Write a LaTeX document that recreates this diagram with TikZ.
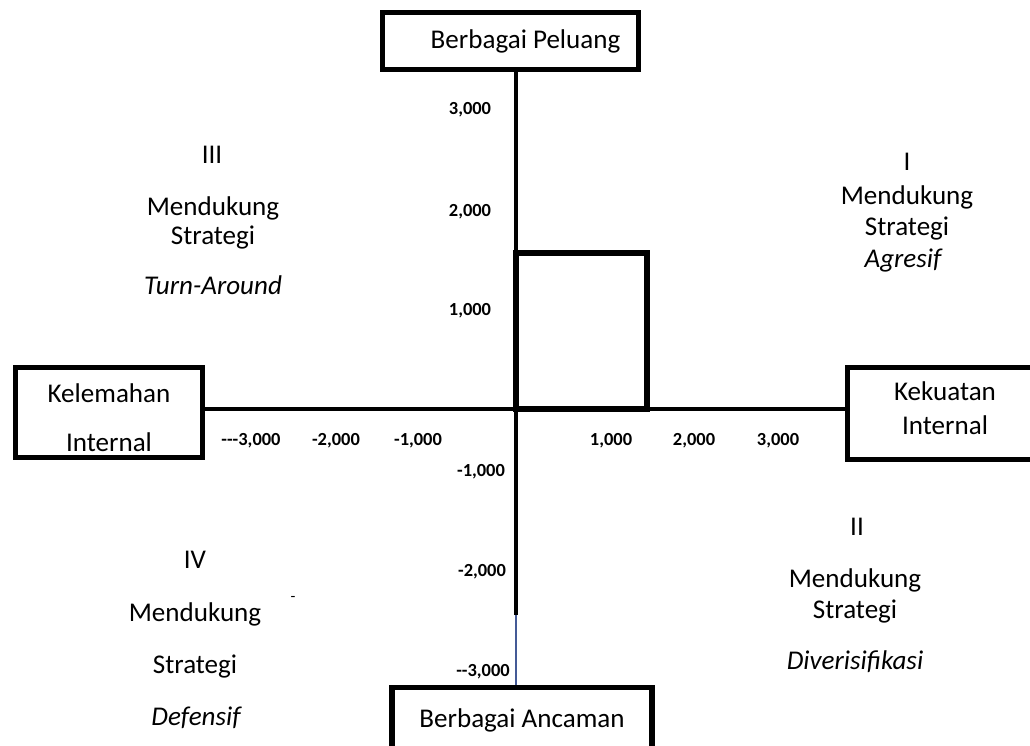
\documentclass[tikz,border=0pt]{standalone}
\usepackage{fontspec}
\setmainfont{Carlito}
\usetikzlibrary{positioning}
\definecolor{axisblue}{RGB}{68,90,150}
\tikzset{
  box/.style={draw, line width=2.9pt, inner sep=0pt, align=center,
    font=\fontsize{15.4}{18}\selectfont},
  axis/.style={line width=2.3pt},
  tick/.style={font=\fontsize{10.5}{12}\selectfont\bfseries, inner sep=0pt},
  quad/.style={font=\fontsize{15.4}{18}\selectfont, inner sep=0pt},
}

\begin{document}
\begin{tikzpicture}[x=0.02cm,y=-0.02cm]
  \useasboundingbox (0,0) rectangle (1030,745);
  \clip (0,0) rectangle (1030,745);
  \coordinate (O) at (516,409);
  \coordinate (sq) at (647,253);
  \coordinate (thin) at (516,615);

  % kotak faktor
  \node[box, minimum width=5.12cm, minimum height=1.14cm] (peluang) at (510.5,41) {\hspace*{0.6cm}Berbagai Peluang};
  \node[box, minimum width=5.2cm, minimum height=1.3cm] (ancaman) at (522,720) {Berbagai Ancaman};
  \node[box, minimum width=3.74cm, minimum height=1.8cm] (kelemahan) at (109,412.5) {\rule{0pt}{0.6cm}Kelemahan\\[0.35cm]Internal};
  \node[box, minimum width=3.9cm, minimum height=1.84cm] (kekuatan) at (945,413.5) {Kekuatan\\[0.05cm]Internal\rule[-0.2cm]{0pt}{0.2cm}};

  % sumbu
  \draw[axis] (peluang.south -| O) -- (thin);
  \draw[axisblue, line width=1.1pt] (thin) -- (ancaman.north -| O);
  \draw[axis] (kelemahan.east |- O) -- (kekuatan.west |- O);
  \draw[line width=3.3pt] (O) rectangle (sq);

  % skala
  \foreach \y/\t in {110/{3,000}, 212/{2,000}, 311/{1,000}}
    \node[tick] (v\y) at (470,\y) {\t};
  \node[tick] (vm1) at (481,472) {-1,000};
  \node[tick] (vm2) at (482,572) {-2,000};
  \node[tick] (vm3) at (483,672) {\mbox{-}\mbox{-}3,000};
  \node[tick] (hm3) at (251,441) {\mbox{-}\mbox{-}\mbox{-}3,000};
  \foreach \x/\t in {336/{-2,000}, 418/{-1,000}, 611/{1,000}, 694/{2,000}, 778/{3,000}}
    \node[tick] (h\x) at (\x,441) {\t};

  % kuadran
  \node[quad] (q1a) at (907,162) {I};
  \node[quad] (q1b) at (907,197) {Mendukung};
  \node[quad] (q1c) at (907,229) {Strategi};
  \node[quad] (q1d) at (903,260) {\itshape Agresif};

  \node[quad] (q2a) at (857,527) {II};
  \node[quad] (q2b) at (855,580) {Mendukung};
  \node[quad] (q2c) at (855,612) {Strategi};
  \node[quad] (q2d) at (855,662) {\itshape Diverisifikasi};

  \node[quad] (q3a) at (212,155) {III};
  \node[quad] (q3b) at (213,208) {Mendukung};
  \node[quad] (q3c) at (213,238) {Strategi};
  \node[quad] (q3d) at (213,285) {\itshape Turn-Around};

  \node[quad] (q4a) at (195,560) {IV};
  \node[quad] (q4b) at (195,614) {Mendukung};
  \node[quad] (q4c) at (195,666) {Strategi};
  \node[quad] (q4d) at (196,718) {\itshape Defensif};
  \node[quad, font=\small] (q4e) at (293,599) {-};
\end{tikzpicture}
\end{document}
